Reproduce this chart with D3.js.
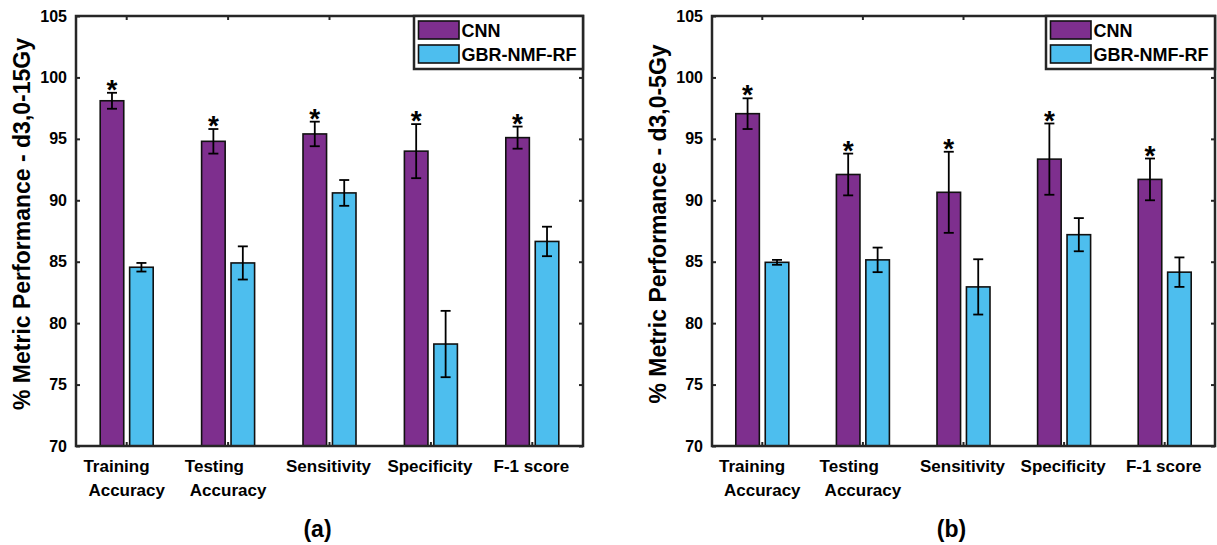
<!DOCTYPE html>
<html>
<head>
<meta charset="utf-8">
<script src="https://cdn.jsdelivr.net/npm/d3@7"></script>
<style>
  body { margin: 0; background: #fff; }
  svg { font-family: "Liberation Sans", Arial, sans-serif; font-weight: bold; }
</style>
</head>
<body>
<svg width="1217" height="545"></svg>
<script>
// data
var categories = ["Training Accuracy", "Testing Accuracy", "Sensitivity", "Specificity", "F-1 score"];
var catLines = [["Training", "Accuracy"], ["Testing", "Accuracy"], ["Sensitivity"], ["Specificity"], ["F-1 score"]];
var series = ["CNN", "GBR-NMF-RF"];
var yTicks = [70, 75, 80, 85, 90, 95, 100, 105];

var cnnA = [98.1, 94.8, 95.4, 94.0, 95.1];
var cnnAErr = [0.65, 1.0, 1.0, 2.2, 0.9];
var gbrA = [84.55, 84.9, 90.6, 78.3, 86.65];
var gbrAErr = [0.35, 1.35, 1.05, 2.7, 1.2];

var cnnB = [97.05, 92.1, 90.65, 93.35, 91.7];
var cnnBErr = [1.25, 1.7, 3.3, 2.9, 1.7];
var gbrB = [84.95, 85.15, 82.95, 87.2, 84.15];
var gbrBErr = [0.2, 1.0, 2.25, 1.35, 1.2];

var colors = { "CNN": "#7E2F8E", "GBR-NMF-RF": "#4DBEEE" };
var axisColor = "#262626";

var svg = d3.select("svg");

function drawPanel(opts) {
    var g = svg.append("g");
    var x = d3.scaleBand().domain(categories).range([opts.left, opts.right]).padding(0);
    var bw = x.bandwidth();
    var inner = d3.scaleBand().domain(series)
        .range([bw / 2 - 26.5, bw / 2 + 26.5]).paddingInner(0.2);
    var y = d3.scaleLinear().domain([70, 105]).range([446, 16]);

    var rows = [];
    categories.forEach(function (c, i) {
        rows.push({ cat: c, s: "CNN", v: opts.cnn[i], e: opts.cnnErr[i], star: true });
        rows.push({ cat: c, s: "GBR-NMF-RF", v: opts.gbr[i], e: opts.gbrErr[i], star: false });
    });

    // bars
    g.selectAll("rect.bar").data(rows).enter().append("rect")
        .attr("class", "bar")
        .attr("x", function (d) { return x(d.cat) + inner(d.s); })
        .attr("y", function (d) { return y(d.v); })
        .attr("width", inner.bandwidth())
        .attr("height", function (d) { return y(70) - y(d.v); })
        .attr("fill", function (d) { return colors[d.s]; })
        .attr("stroke", "#111")
        .attr("stroke-width", 1.6);

    // error bars
    var eb = g.selectAll("g.err").data(rows).enter().append("g").attr("class", "err")
        .attr("transform", function (d) { return "translate(" + (x(d.cat) + inner(d.s) + inner.bandwidth() / 2) + ",0)"; })
        .attr("stroke", "#000").attr("stroke-width", 1.8);
    eb.append("line").attr("x1", 0).attr("x2", 0)
        .attr("y1", function (d) { return y(d.v + d.e); })
        .attr("y2", function (d) { return y(d.v - d.e); });
    eb.append("line").attr("x1", -5).attr("x2", 5)
        .attr("y1", function (d) { return y(d.v + d.e); })
        .attr("y2", function (d) { return y(d.v + d.e); });
    eb.append("line").attr("x1", -5).attr("x2", 5)
        .attr("y1", function (d) { return y(d.v - d.e); })
        .attr("y2", function (d) { return y(d.v - d.e); });

    // significance stars
    g.selectAll("text.star").data(rows.filter(function (d) { return d.star; })).enter().append("text")
        .attr("class", "star")
        .attr("x", function (d) { return x(d.cat) + inner(d.s) + inner.bandwidth() / 2; })
        .attr("y", function (d) { return y(d.v + d.e) + 6; })
        .attr("text-anchor", "middle")
        .attr("font-size", 28)
        .text("*");

    // axes box
    g.append("g").attr("transform", "translate(" + opts.left + ",0)")
        .call(d3.axisLeft(y).tickValues(yTicks).tickSize(-4).tickPadding(9).tickFormat(d3.format("d")))
        .call(function (a) {
            a.select(".domain").remove();
            a.selectAll("line").attr("stroke", axisColor).attr("stroke-width", 2);
            a.selectAll("text").attr("font-size", 16).attr("font-family", null).attr("fill", "#000");
        });
    g.append("g").attr("transform", "translate(" + opts.right + ",0)")
        .call(d3.axisRight(y).tickValues(yTicks).tickSize(-4).tickFormat(""))
        .call(function (a) {
            a.select(".domain").remove();
            a.selectAll("line").attr("stroke", axisColor).attr("stroke-width", 2);
        });
    g.append("g").attr("transform", "translate(0,446)")
        .call(d3.axisBottom(x).tickSize(-4).tickFormat(""))
        .call(function (a) {
            a.select(".domain").remove();
            a.selectAll("line").attr("stroke", axisColor).attr("stroke-width", 2);
        });
    g.append("g").attr("transform", "translate(0,16)")
        .call(d3.axisTop(x).tickSize(-4).tickFormat(""))
        .call(function (a) {
            a.select(".domain").remove();
            a.selectAll("line").attr("stroke", axisColor).attr("stroke-width", 2);
        });
    g.append("rect")
        .attr("x", opts.left).attr("y", 16)
        .attr("width", opts.right - opts.left).attr("height", 430)
        .attr("fill", "none").attr("stroke", axisColor).attr("stroke-width", 2.5);

    // category labels
    catLines.forEach(function (lines, i) {
        var cx = x(categories[i]) + bw / 2;
        if (lines.length === 1) {
            g.append("text").attr("x", cx - 1).attr("y", 471.5)
                .attr("text-anchor", "middle").attr("font-size", 17).text(lines[0]);
        } else {
            var t2 = g.append("text").attr("x", cx).attr("y", 496)
                .attr("text-anchor", "middle").attr("font-size", 17).text(lines[1]);
            var w2 = t2.node().getComputedTextLength();
            g.append("text").attr("x", cx - w2 / 2 - 5).attr("y", 471.5)
                .attr("text-anchor", "start").attr("font-size", 17).text(lines[0]);
        }
    });

    // y title
    g.append("text")
        .attr("transform", "translate(" + (opts.left - 46.5) + ",224) rotate(-90)")
        .attr("text-anchor", "middle").attr("font-size", 23)
        .text(opts.ylabel);

    // panel letter
    g.append("text").attr("x", (opts.left + opts.right) / 2 - 12).attr("y", 537)
        .attr("text-anchor", "middle").attr("font-size", 23).text(opts.tag);

    // legend
    var lw = 169, lh = 53, lx = opts.right - lw;
    var lg = g.append("g").attr("transform", "translate(" + lx + ",16)");
    lg.append("rect").attr("width", lw).attr("height", lh)
        .attr("fill", "#fff").attr("stroke", axisColor).attr("stroke-width", 2.5);
    series.forEach(function (s, i) {
        lg.append("rect").attr("x", 4.5).attr("y", 5 + i * 24).attr("width", 40.5).attr("height", 18)
            .attr("fill", colors[s]).attr("stroke", "#111").attr("stroke-width", 1.6);
        lg.append("text").attr("x", 47.5).attr("y", 21 + i * 24)
            .attr("font-size", 18).text(s);
    });
}

drawPanel({ left: 76, right: 583, cnn: cnnA, cnnErr: cnnAErr, gbr: gbrA, gbrErr: gbrAErr,
    ylabel: "% Metric Performance - d3,0-15Gy", tag: "(a)" });
drawPanel({ left: 712, right: 1215, cnn: cnnB, cnnErr: cnnBErr, gbr: gbrB, gbrErr: gbrBErr,
    ylabel: "% Metric Performance - d3,0-5Gy", tag: "(b)" });
</script>
</body>
</html>
